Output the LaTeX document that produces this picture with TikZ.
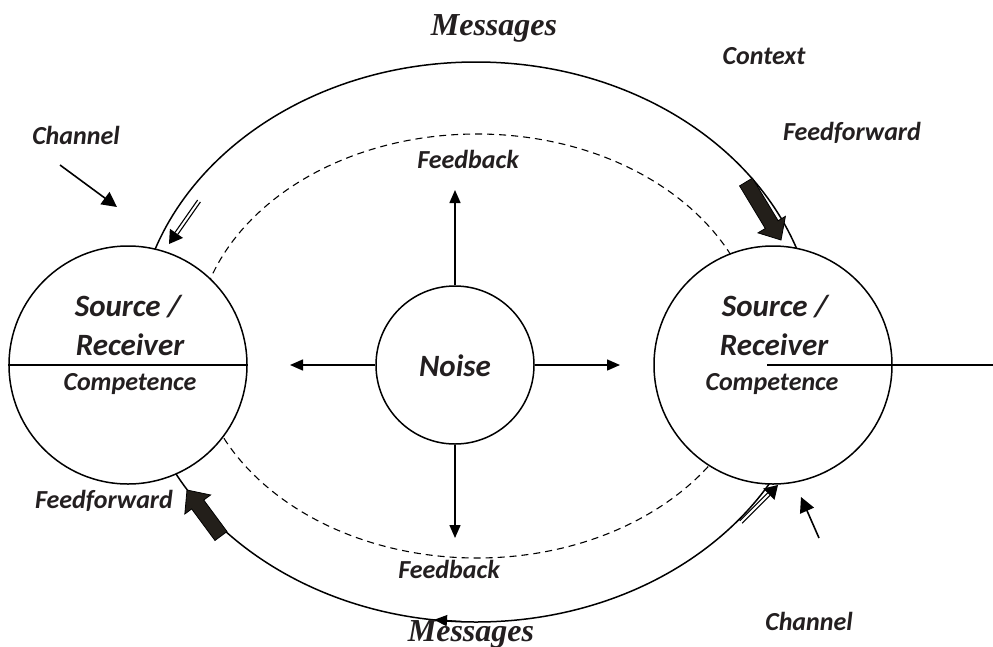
\documentclass[tikz,border=0pt]{standalone}
\usepackage{fontspec}
\setmainfont{Carlito}
\newfontfamily\msgfont{Liberation Serif}
\usetikzlibrary{arrows.meta,calc}
\definecolor{ink}{HTML}{231F20}
\definecolor{blockfill}{HTML}{231F1A}

% thick block arrow from tail #1 to tip #2
\newcommand\blockarrow[2]{%
  \coordinate (bh) at ($(#2)!18pt!(#1)$);
  \filldraw[fill=blockfill, draw=black, line width=0.8pt]
    ($(#1)!7.5pt!90:(#2)$) -- ($(bh)!7.5pt!90:(#2)$) -- ($(bh)!16pt!90:(#2)$)
    -- (#2) -- ($(bh)!16pt!-90:(#2)$) -- ($(bh)!7.5pt!-90:(#2)$)
    -- ($(#1)!7.5pt!-90:(#2)$) -- cycle;
}
% double-stroked arrow from tail #1 to tip #2
\newcommand\dblarrow[2]{%
  \coordinate (dh) at ($(#2)!13pt!(#1)$);
  \draw[line width=1.1pt] ($(#1)!1.7pt!90:(#2)$) -- ($(dh)!1.7pt!90:(#2)$);
  \draw[line width=1.1pt] ($(#1)!1.7pt!-90:(#2)$) -- ($(dh)!1.7pt!-90:(#2)$);
  \fill (#2) -- ($(dh)!8pt!90:(#2)$) -- ($(dh)!8pt!-90:(#2)$) -- cycle;
}

\begin{document}
\begin{tikzpicture}[x=1pt,y=-1pt,
  lbl/.style={font=\fontsize{26}{30}\selectfont\bfseries\itshape, text=ink, anchor=base, inner sep=0pt},
  big/.style={font=\fontsize{31}{36}\selectfont\bfseries\itshape, text=ink, anchor=base, inner sep=0pt},
  msg/.style={font=\msgfont\fontsize{32}{36}\selectfont\bfseries\itshape, text=ink, anchor=base, inner sep=0pt},
  ring/.style={circle, draw, line width=1.5pt, fill=white, inner sep=0pt},
  pointer/.style={line width=1.6pt, -{Triangle[length=15pt,width=15pt]}},
  spoke/.style={line width=1.5pt, -{Triangle[length=13pt,width=11pt]}}
]
\useasboundingbox (0,0) rectangle (993,646);
\fill[white] (0,0) rectangle (993,646);

% message loops
\draw[line width=1.5pt] (476,342) ellipse [x radius=340pt, y radius=280pt];
\draw[line width=1.1pt, dash pattern=on 7pt off 5pt] (477,346) ellipse [x radius=281pt, y radius=212pt];

% participants and noise
\node[ring, minimum size=238pt] (L) at (128,365) {};
\node[ring, minimum size=238pt] (R) at (773,365) {};
\node[ring, minimum size=158pt] (N) at (455,365) {};

\draw[line width=1.5pt] (L.west) -- (L.east);
\coordinate (rs) at (767,365);
\coordinate (re) at (993,365);
\draw[line width=1.5pt] (rs) -- (re);

% circle texts
\node[big] (ls) at (128,316) {Source /};
\node[big] (lr) at (130,355) {Receiver};
\node[lbl] (lc) at (130,390) {Competence};
\node[big] (rsrc) at (775,316) {Source /};
\node[big] (rr) at (774,355) {Receiver};
\node[lbl] (rc) at (772,390) {Competence};
\node[big] (nt) at (455,376) {Noise};

% other labels
\node[msg] (m1) at (494,35) {Messages};
\node[msg] (m2) at (471,641) {Messages};
\node[lbl] (ctx) at (764,64) {Context};
\node[lbl] (ff1) at (852,140) {Feedforward};
\node[lbl] (ch1) at (76,144) {Channel};
\node[lbl] (fb1) at (468,168) {Feedback};
\node[lbl] (fb2) at (449,578) {Feedback};
\node[lbl] (ff2) at (104,508) {Feedforward};
\node[lbl] (ch2) at (809,630) {Channel};

% noise spreading in four directions
\coordinate (up) at (455,190);
\coordinate (dn) at (455,538);
\coordinate (lf) at (290,365);
\coordinate (rt) at (620,365);
\draw[spoke] (N.north) -- (up);
\draw[spoke] (N.south) -- (dn);
\draw[spoke] (N.west) -- (lf);
\draw[spoke] (N.east) -- (rt);

% channel pointers
\coordinate (c1a) at (60,165);
\coordinate (c1b) at (117,207);
\draw[pointer] (c1a) -- (c1b);
\coordinate (c2a) at (819,538);
\coordinate (c2b) at (801,497);
\draw[pointer] (c2a) -- (c2b);

% feedforward block arrows
\coordinate (f1a) at (746,182);
\coordinate (f1b) at (781,240);
\blockarrow{f1a}{f1b}
\coordinate (f2a) at (221,536);
\coordinate (f2b) at (187,490);
\blockarrow{f2a}{f2b}

% message direction marks on the loop
\coordinate (d1a) at (199,201);
\coordinate (d1b) at (169,244);
\dblarrow{d1a}{d1b}
\coordinate (d2a) at (741,522);
\coordinate (d2b) at (778,485);
\dblarrow{d2a}{d2b}
\coordinate (b1a) at (462,621.5);
\coordinate (b1b) at (434,619.8);
\draw[line width=1.3pt, -{Triangle[length=13pt,width=11pt]}] (b1a) -- (b1b);
\end{tikzpicture}
\end{document}
